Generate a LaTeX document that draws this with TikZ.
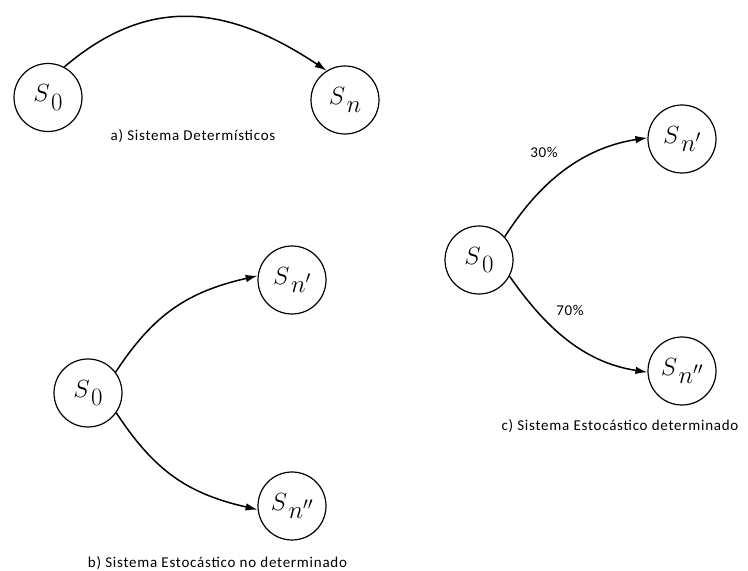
\documentclass[tikz,border=0pt]{standalone}
\usepackage{fontspec}
\setsansfont{Carlito}[LetterSpace=5]
\usetikzlibrary{arrows.meta}
\newcommand{\stname}[1]{$S\mkern1mu\lower8.5pt\hbox{$#1$}$}
\begin{document}
\begin{tikzpicture}[x=1pt,y=1pt,
  state/.style={circle,draw,line width=1.2pt,minimum size=68pt,inner sep=0pt,
    font=\fontsize{23}{25}\selectfont},
  captxt/.style={font=\sffamily\fontsize{15}{17}\selectfont,inner sep=0pt},
  pct/.style={font=\sffamily\fontsize{15}{17}\selectfont,inner sep=0pt},
  arr/.style={line width=1.5pt,-{Latex[length=12pt,width=7.5pt]}}]
\useasboundingbox (0,0) rectangle (748,571);
% a
\node[state] (a0) at (48,473.5) {\stname{0}};
\node[state] (an) at (345,471) {\stname{n}};
\node[captxt] (ca) at (193,435) {a) Sistema Determísticos};
\draw[arr] (a0.62) .. controls +(80,68) and +(-105,70) .. (an.122);
% b
\node[state] (b0) at (88,178) {\stname{0}};
\node[state] (b1) at (292,291) {\stname{n'}};
\node[state] (b2) at (292,65) {\stname{n''}};
\node[captxt] (cb) at (217.5,8) {b) Sistema Estocástico no determinado};
\draw[arr] (b0.37) .. controls +(38,58) and +(-70,-16) .. (b1.173);
\draw[arr] (b0.-35) .. controls +(38,-58) and +(-70,16) .. (b2.186);
% c
\node[state] (c0) at (479,311) {\stname{0}};
\node[state] (c1) at (682,432) {\stname{n'}};
\node[state] (c2) at (682,200) {\stname{n''}};
\node[captxt] (cc) at (620,145) {c) Sistema Estocástico determinado};
\draw[arr] (c0.42) .. controls +(35,55) and +(-65,-10) .. (c1.178);
\node[pct] (l30) at (544,419) {30\%};
\node[pct] (l70) at (570,261) {70\%};
\draw[arr] (c0.-28) .. controls +(35,-50) and +(-65,10) .. (c2.182);
\end{tikzpicture}
\end{document}
